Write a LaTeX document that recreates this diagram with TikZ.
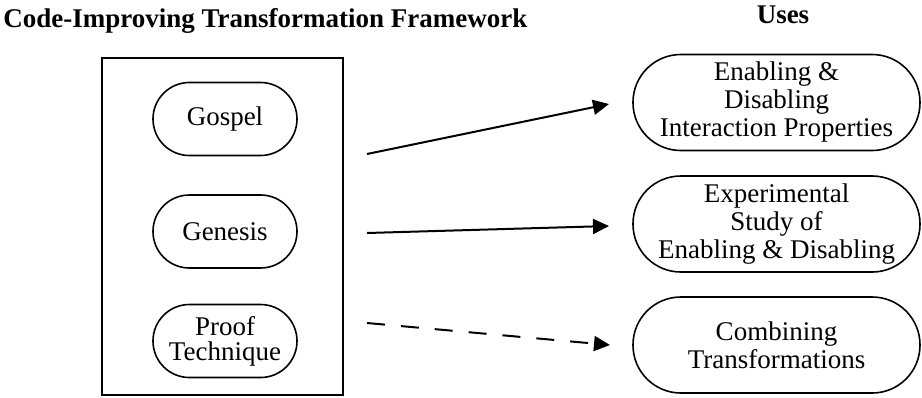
\documentclass[tikz,border=0pt]{standalone}
\usepackage{fontspec}
\setmainfont{Liberation Serif}
\usepackage{tikz}
\usetikzlibrary{arrows.meta,positioning}
\definecolor{cfedge}{RGB}{0,0,0}
\tikzset{
  cfbox/.style={
    draw=cfedge, line width=0.8pt, align=center, inner sep=0pt,
    font=\fontsize{13.5}{14}\selectfont
  },
  trf/.style={cfbox, minimum width=72pt, minimum height=36.5pt, rounded corners=18.2pt},
  use/.style={cfbox, minimum width=143.5pt, minimum height=48pt, rounded corners=23.9pt},
  frm/.style={draw=cfedge, line width=1pt, minimum width=120.5pt, minimum height=168.5pt, inner sep=0pt},
  hdr/.style={font=\fontsize{13.5}{14}\selectfont\bfseries, inner sep=0pt},
  arr/.style={-{Triangle[length=8pt,width=7.5pt]}, draw=cfedge, line width=1pt},
  darr/.style={arr, dash pattern=on 9pt off 8pt}
}
\begin{document}
\begin{tikzpicture}[x=0.5pt, y=-0.5pt]
  \useasboundingbox (0,0) rectangle (922,397);

  \node[hdr, anchor=base west] (title) at (3,27) {Code-Improving Transformation Framework};
  \node[hdr, anchor=base] (uses) at (783,23) {Uses};

  % framework and its parts
  \node[frm] (frame) at (222.5,226.5) {};
  \node[trf] (gospel) at (225,119) {Gospel};
  \node[trf] (genesis) at (225,231.5) {Genesis};
  \node[trf, font=\fontsize{13.5}{12.6}\selectfont] (proof) at (225,341) {Proof\\Technique};

  % uses
  \node[use] (props) at (776.5,102.5) {Enabling \&\\Disabling\\Interaction Properties};
  \node[use] (study) at (776.5,224) {Experimental\\Study of\\Enabling \& Disabling};
  \node[use] (comb) at (776.5,345) {Combining\\Transformations};

  \coordinate (s1) at (367,154);
  \coordinate (e1) at (609,104);
  \coordinate (s2) at (367,233);
  \coordinate (e2) at (609,226);
  \coordinate (s3) at (367,323);
  \coordinate (e3) at (610,345);

  \draw[arr] (s1) -- (e1);
  \draw[arr] (s2) -- (e2);
  \draw[darr] (s3) -- (e3);
\end{tikzpicture}
\end{document}
